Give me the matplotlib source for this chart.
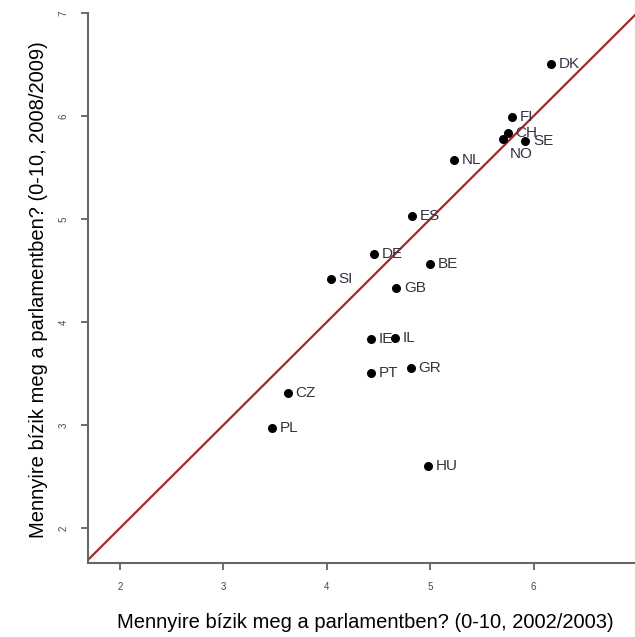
import matplotlib.pyplot as plt
import numpy as np

# bizalom a parlamentben, 2002/2003 vs 2008/2009
countries = ['DK', 'FI', 'CH', 'NO', 'SE', 'NL', 'ES', 'DE', 'BE', 'SI',
             'GB', 'IE', 'IL', 'PT', 'GR', 'CZ', 'PL', 'HU']
trust_2002 = [6.17, 5.79, 5.75, 5.70, 5.92, 5.23, 4.82, 4.46, 5.00, 4.04,
              4.67, 4.43, 4.66, 4.43, 4.81, 3.62, 3.47, 4.98]
trust_2008 = [6.50, 5.99, 5.83, 5.78, 5.76, 5.57, 5.03, 4.66, 4.56, 4.42,
              4.33, 3.83, 3.84, 3.50, 3.55, 3.31, 2.97, 2.60]
xticks = [2, 3, 4, 5, 6]
yticks = [2, 3, 4, 5, 6, 7]

plt.rcParams['font.family'] = ['Liberation Sans', 'DejaVu Sans']

fig = plt.figure(figsize=(6.35, 6.37), dpi=100)
ax = fig.add_axes([0.1386, 0.1162, 0.8614, 0.8634])

ax.scatter(trust_2002, trust_2008, s=30, color='black', zorder=3)

# 45 fokos egyenes
ln = np.array([1.5, 7.5])
ax.plot(ln, ln, color='#a3282e', lw=1.6, zorder=2)

for c, x, y in zip(countries, trust_2002, trust_2008):
    if c == 'NO':
        ax.annotate(c, (x, y), xytext=(13, -11), textcoords='offset points',
                    ha='center', va='center', fontsize=11, color='#333340')
    else:
        ax.annotate(c, (x, y), xytext=(5.5, 0), textcoords='offset points',
                    ha='left', va='center', fontsize=11, color='#333340')

ax.set_xlim(1.69, 6.98)
ax.set_ylim(1.66, 7.0)
ax.set_xticks(xticks)
ax.set_yticks(yticks)
ax.tick_params(axis='both', length=5, width=1.2, color='#555555',
               labelsize=7, labelcolor='#444466', pad=9)
ax.tick_params(axis='y', labelrotation=90)
for lab in ax.get_yticklabels():
    lab.set_va('center')

for s in ['top', 'right']:
    ax.spines[s].set_visible(False)
for s in ['left', 'bottom']:
    ax.spines[s].set_color('#666666')
    ax.spines[s].set_linewidth(1.5)

fig.text(0.576, 0.023, 'Mennyire bízik meg a parlamentben? (0-10, 2002/2003)',
         ha='center', va='center', fontsize=14.5)
fig.text(0.06, 0.545, 'Mennyire bízik meg a parlamentben? (0-10, 2008/2009)',
         ha='center', va='center', fontsize=14.5, rotation=90)

fig.savefig('out.png', dpi=100)
